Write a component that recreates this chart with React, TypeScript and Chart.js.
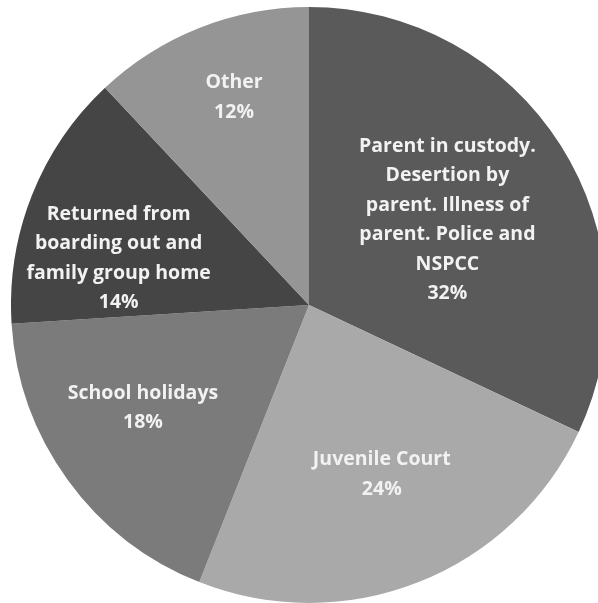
import React, { useEffect, useRef } from "react";
import { Chart, registerables } from "chart.js";

Chart.register(...registerables);

const categories: string[][] = [
  ["Parent in custody.", "Desertion by", "parent. Illness of", "parent. Police and", "NSPCC"],
  ["Juvenile Court"],
  ["School holidays"],
  ["Returned from", "boarding out and", "family group home"],
  ["Other"],
];
const values: number[] = [32, 24, 18, 14, 12];
const colors: string[] = ["#5a5a5a", "#a9a9a9", "#7b7b7b", "#454545", "#959595"];

const labelPlugin = {
  id: "sliceLabels",
  afterDatasetsDraw(chart: any, _args: any, opts: any) {
    const ctx = chart.ctx;
    const meta = chart.getDatasetMeta(0);
    const total = values.reduce((a, b) => a + b, 0);
    const factors: number[] = opts.factors;
    const angleShift: number[] = opts.angleShift;
    ctx.save();
    ctx.fillStyle = "#f2f2f2";
    ctx.font = opts.font;
    ctx.textAlign = "center";
    ctx.textBaseline = "middle";
    meta.data.forEach((arc: any, i: number) => {
      const p = arc.getProps(["x", "y", "startAngle", "endAngle", "outerRadius"], true);
      const mid = (p.startAngle + p.endAngle) / 2 + (angleShift[i] * Math.PI) / 180;
      const r = p.outerRadius * factors[i];
      const cx = p.x + Math.cos(mid) * r;
      const cy = p.y + Math.sin(mid) * r + opts.yOffset;
      const pct = Math.round((values[i] / total) * 100) + "%";
      const lines = [...categories[i], pct];
      const lh = opts.lineHeight;
      const y0 = cy - ((lines.length - 1) * lh) / 2;
      lines.forEach((t, k) => ctx.fillText(t, cx, y0 + k * lh));
    });
    ctx.restore();
  },
};

export default function App() {
  const ref = useRef<HTMLCanvasElement>(null);
  useEffect(() => {
    document.body.style.margin = "0";
    document.body.style.overflow = "hidden";
    const chart = new Chart(ref.current!, {
      type: "pie",
      data: {
        labels: categories.map((c) => c.join(" ")),
        datasets: [
          {
            data: values,
            backgroundColor: colors,
            borderWidth: 0,
          },
        ],
      },
      options: {
        animation: false,
        responsive: false,
        maintainAspectRatio: false,
        layout: { padding: 0 },
        plugins: {
          legend: { display: false },
          tooltip: { enabled: false },
          sliceLabels: {
            factors: [0.55, 0.61, 0.65, 0.66, 0.75],
            angleShift: [0, -2, 5, -7, 2],
            font: "bold 19.5px 'Open Sans'",
            lineHeight: 29.5,
            yOffset: 3,
          },
        } as any,
      },
      plugins: [labelPlugin],
    });
    return () => chart.destroy();
  }, []);
  return (
    <div style={{ position: "fixed", left: 0, top: 0, width: 598, height: 603, overflow: "hidden", background: "#fff" }}>
      <canvas ref={ref} width={596} height={596} style={{ position: "absolute", left: 11, top: 7, width: 596, height: 596 }} />
    </div>
  );
}
